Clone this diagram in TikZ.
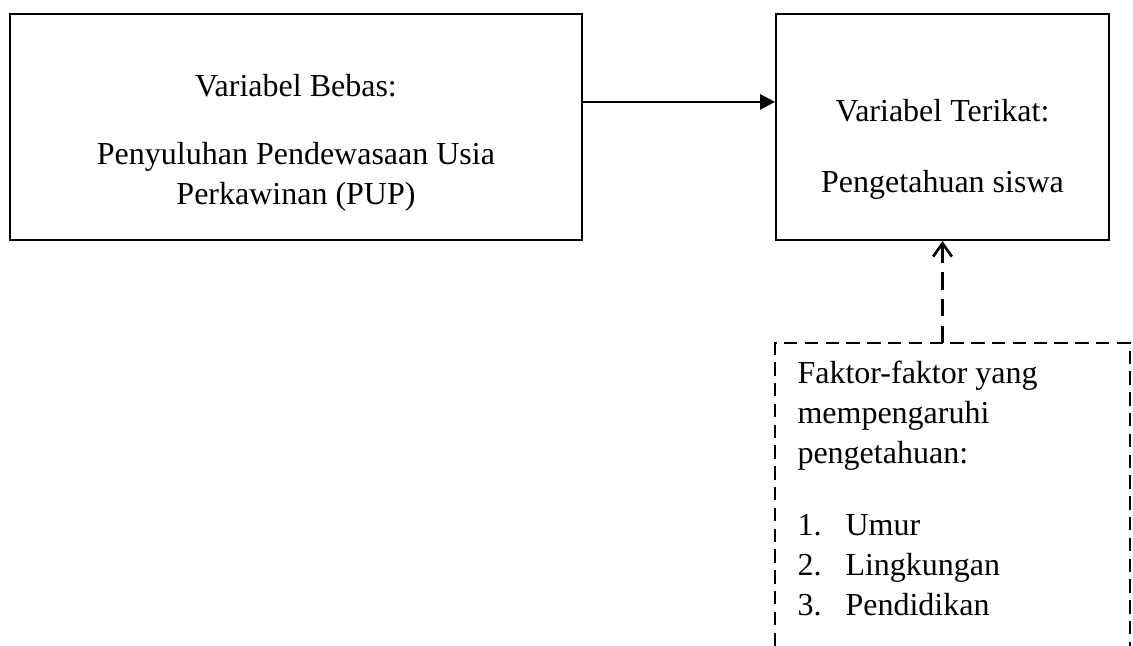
\documentclass[tikz,border=0pt]{standalone}
\usepackage{fontspec}
\setmainfont{Liberation Serif}
\usetikzlibrary{arrows.meta,positioning}
\tikzset{
    %Define style for boxes
    kotak/.style={
           rectangle,
           draw=black, line width=0.7pt,
           minimum height=84.75pt},
    %Define style for texts
    teks/.style={
           inner sep=0pt,
           font=\fontsize{12}{15}\selectfont},
    % Define arrow styles
    panah/.style={
           -{Triangle[length=5.6pt,width=5.6pt]},
           line width=1pt},
    panahputus/.style={
           -{Straight Barb[length=5pt,width=7pt]},
           line width=1pt,
           dash pattern=on 6.5pt off 3.5pt},
    garisputus/.style={
           line width=0.7pt,
           dash pattern=on 5pt off 2.8pt}
}
\begin{document}
\begin{tikzpicture}[x=0.375pt,y=-0.375pt]
\useasboundingbox (0,0) rectangle (1133,646);
 %boxes
\node[kotak, minimum width=214.5pt] (bebas) at (296,127) {};
\node[kotak, minimum width=124.9pt] (terikat) at (942.5,127) {};
\node[teks, align=center, anchor=north] (tbebas) at (296,74)
  {Variabel Bebas:\\[10.5pt] Penyuluhan Pendewasaan Usia\\ Perkawinan (PUP)};
\node[teks, align=center, anchor=north] (tterikat) at (942.5,99)
  {Variabel Terikat:\\[11.5pt] Pengetahuan siswa};

 %open dashed frame
\draw[garisputus] (775,646) -- (775,343) -- (1130,343) -- (1130,646);
\coordinate (faktoratas) at (942.5,343);
\node[teks, align=left, anchor=north west] (faktor) at (797,360)
  {Faktor-faktor yang\\ mempengaruhi\\ pengetahuan:\\[12pt]
   \makebox[18pt][l]{1.}Umur\\
   \makebox[18pt][l]{2.}Lingkungan\\
   \makebox[18pt][l]{3.}Pendidikan};

 %arrows
\draw[panah] ([yshift=9.4pt]bebas.east) -- ([yshift=9.4pt]terikat.west);
\draw[panahputus] (faktoratas) -- (terikat.south);
\end{tikzpicture}
\end{document}
